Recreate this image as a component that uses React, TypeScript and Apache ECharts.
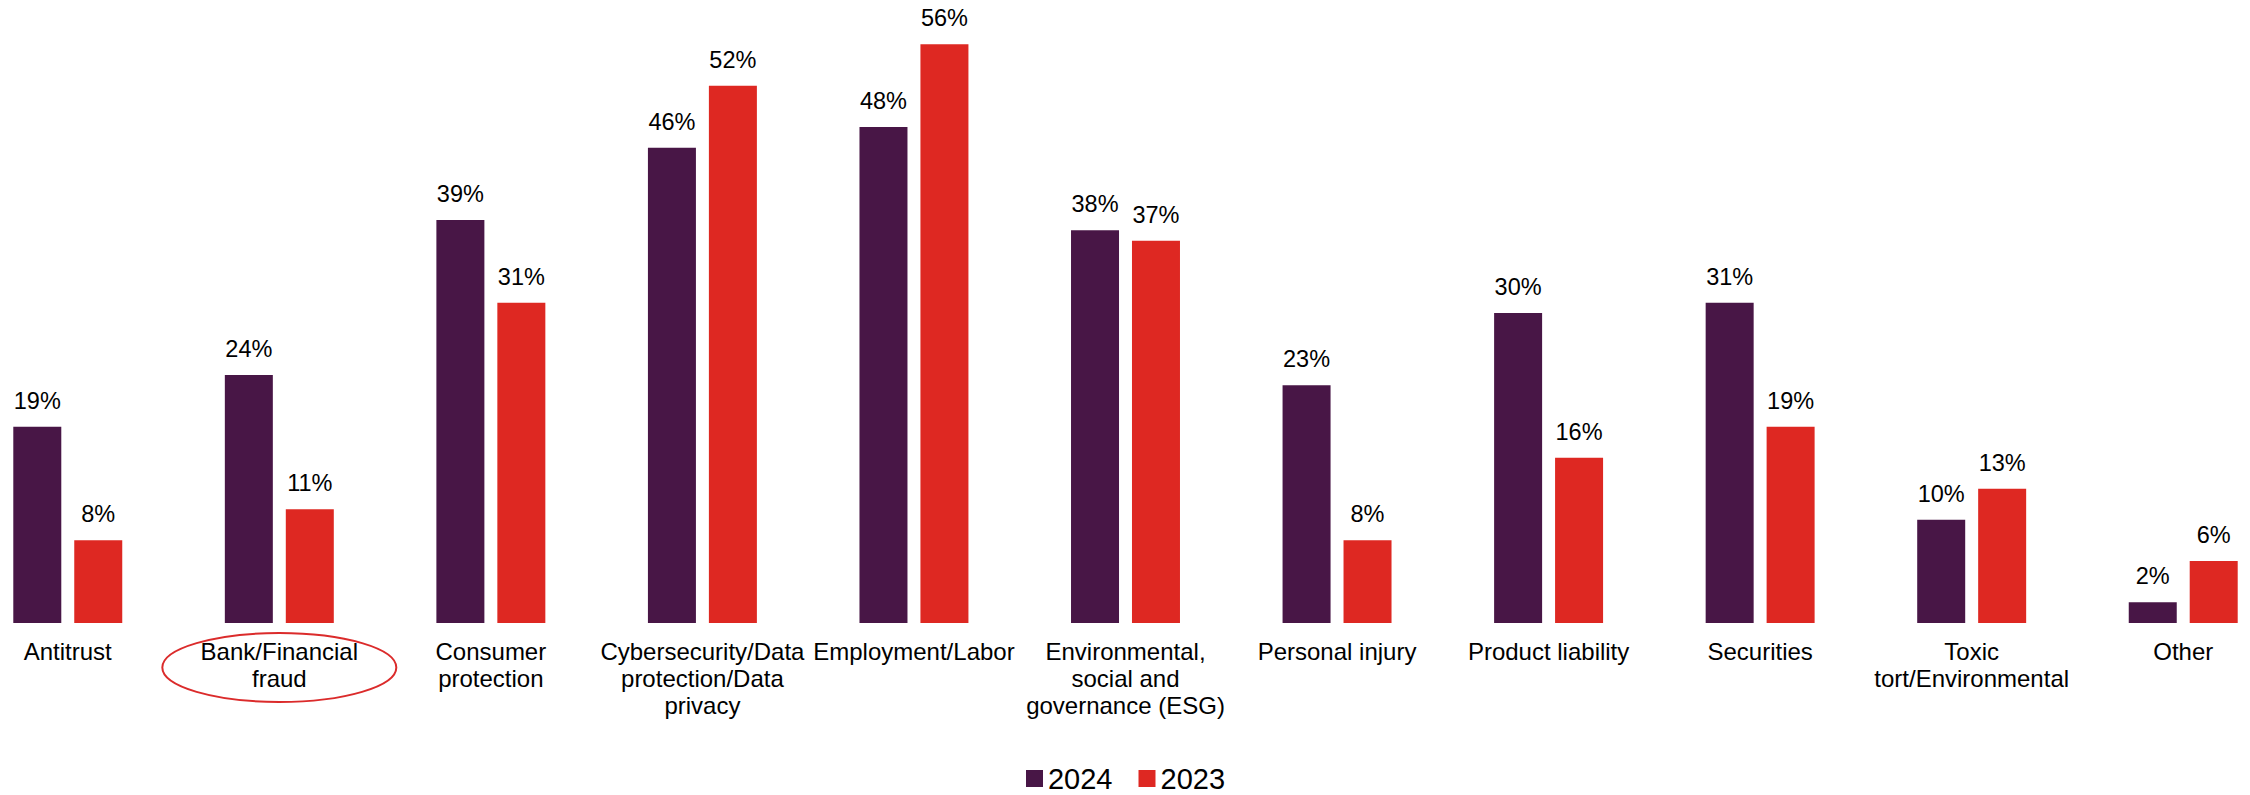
import React, { useEffect, useRef } from "react";
import * as echarts from "echarts";

// Litigation areas of concern, share of respondents by survey year
const categories: string[] = [
  "Antitrust",
  "Bank/Financial\nfraud",
  "Consumer\nprotection",
  "Cybersecurity/Data\nprotection/Data\nprivacy",
  "Employment/Labor",
  "Environmental,\nsocial and\ngovernance (ESG)",
  "Personal injury",
  "Product liability",
  "Securities",
  "Toxic\ntort/Environmental",
  "Other",
];

const values2024: number[] = [19, 24, 39, 46, 48, 38, 23, 30, 31, 10, 2];
const values2023: number[] = [8, 11, 31, 52, 56, 37, 8, 16, 19, 13, 6];

const seriesNames: string[] = ["2024", "2023"];

// Category highlighted with an outline under its axis label
const highlighted = "Bank/Financial\nfraud";

const PURPLE = "#481646";
const RED = "#DE2822";
const FONT = 'Arial, "Liberation Sans", sans-serif';

// The plot's outer categories bleed past the page edges, so the chart
// canvas is wider than the visible frame and shifted left.
const FRAME_W = 2250;
const FRAME_H = 795;
const BLEED_LEFT = 38;
const BLEED_RIGHT = 39;

export default function App() {
  const ref = useRef<HTMLDivElement>(null);

  useEffect(() => {
    if (!ref.current) return;
    const chart = echarts.init(ref.current, null, { renderer: "svg" });

    const label = {
      show: true,
      position: "top" as const,
      distance: 14,
      formatter: "{c}%",
      color: "#000",
      fontSize: 23.5,
      fontFamily: FONT,
    };

    chart.setOption({
      animation: false,
      backgroundColor: "#fff",
      textStyle: { fontFamily: FONT },
      grid: { left: 0, right: 0, top: 3, bottom: 172, containLabel: false },
      legend: {
        data: seriesNames,
        top: 764,
        left: "center",
        padding: 0,
        itemWidth: 17,
        itemHeight: 17,
        itemGap: 26,
        icon: "rect",
        textStyle: {
          fontSize: 29,
          lineHeight: 26,
          color: "#000",
          fontFamily: FONT,
          padding: [0, 0, 0, 0],
        },
      },
      xAxis: {
        type: "category",
        data: categories,
        axisLine: { show: false },
        axisTick: { show: false },
        axisLabel: {
          interval: 0,
          margin: 15,
          fontSize: 24,
          lineHeight: 27,
          color: "#000",
          fontFamily: FONT,
        },
      },
      yAxis: {
        type: "value",
        min: 0,
        max: 60,
        show: false,
        splitLine: { show: false },
      },
      series: [
        {
          name: seriesNames[0],
          type: "bar",
          data: values2024,
          barWidth: 48,
          barGap: "27%",
          itemStyle: { color: PURPLE },
          label,
        },
        {
          name: seriesNames[1],
          type: "bar",
          data: values2023,
          barWidth: 48,
          barGap: "27%",
          itemStyle: { color: RED },
          label,
        },
      ],
    });

    // Outline the highlighted category label
    const cx = chart.convertToPixel({ xAxisIndex: 0 }, highlighted) as number;
    const base = chart.convertToPixel({ yAxisIndex: 0 }, 0) as number;
    chart.setOption({
      graphic: [
        {
          type: "ellipse",
          shape: { cx, cy: base + 44.5, rx: 117, ry: 34.5 },
          style: { fill: "none", stroke: "#DB2B2B", lineWidth: 2 },
          silent: true,
        },
      ],
    });

    return () => chart.dispose();
  }, []);

  return (
    <div
      style={{
        position: "absolute",
        left: 0,
        top: 0,
        width: FRAME_W,
        height: FRAME_H,
        overflow: "hidden",
        background: "#fff",
      }}
    >
      <div
        ref={ref}
        style={{
          position: "absolute",
          left: -BLEED_LEFT,
          top: 0,
          width: FRAME_W + BLEED_LEFT + BLEED_RIGHT,
          height: FRAME_H,
        }}
      />
    </div>
  );
}
